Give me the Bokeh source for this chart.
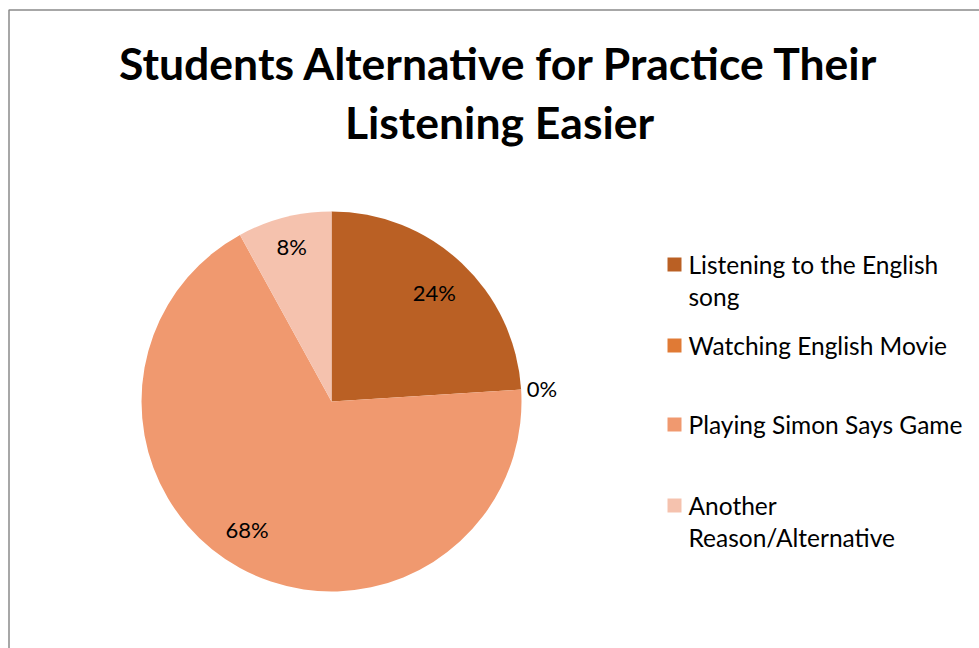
from bokeh.plotting import figure
from bokeh.models import Range1d
from bokeh.core.properties import value
from bokeh.embed import file_html
from bokeh.resources import INLINE
import math

# ---- data ----
categories = ["Listening to the English song", "Watching English Movie",
              "Playing Simon Says Game", "Another Reason/Alternative"]
percent = [24, 0, 68, 8]
pct_labels = ["24%", "0%", "68%", "8%"]
colors = ["#BA6024", "#E07A35", "#F0996F", "#F5C2AE"]
legend_lines = [["Listening to the English", "song"], ["Watching English Movie"],
                ["Playing Simon Says Game"], ["Another", "Reason/Alternative"]]
title_lines = ["Students Alternative for Practice Their", "Listening Easier"]

W, H = 979, 648
FONT = "Lato"

p = figure(width=W, height=H, output_backend="svg", toolbar_location=None,
           x_range=Range1d(0, W), y_range=Range1d(0, H), min_border=0,
           outline_line_color=None)
p.axis.visible = False
p.grid.visible = False
p.background_fill_color = "white"
p.border_fill_color = "white"

def Y(py):
    return H - py

# frame
p.line([8.5, 8.5, W + 5], [Y(H + 5), Y(9.5), Y(9.5)], line_color="#8a8a8a", line_width=1.5)

# title
p.text(x=[499, 499], y=[Y(62), Y(121)], text=title_lines, text_font=value(FONT),
       text_font_style="bold", text_font_size="44.5px", text_align="center",
       text_baseline="middle", text_color="black")

# pie
cx, cy, r = 331, Y(401), 190
total = sum(percent)
start = math.pi / 2
starts, ends, mids = [], [], []
for v in percent:
    sweep = 2 * math.pi * v / total
    end = start - sweep
    starts.append(end)
    ends.append(start)
    mids.append((start + end) / 2)
    start = end
for s, e, c, v in zip(starts, ends, colors, percent):
    if v > 0:
        p.wedge(x=cx, y=cy, radius=r, start_angle=s, end_angle=e,
                fill_color=c, line_color=None)

# data labels (positions by angle)
label_rf = [0.79, 1.11, 0.77, 0.84]
lx = [cx + rf * r * math.cos(m) for rf, m in zip(label_rf, mids)]
ly = [cy + rf * r * math.sin(m) for rf, m in zip(label_rf, mids)]
lx[2] -= 14
p.text(x=lx, y=ly, text=pct_labels, text_font=value(FONT), text_font_size="22px",
       text_align="center", text_baseline="middle", text_color="black")

# legend
sq_y = [264, 345, 424, 505]
for yy, c, lines in zip(sq_y, colors, legend_lines):
    p.scatter(x=[674], y=[Y(yy)], marker="square", size=14, fill_color=c, line_color=None)
    p.text(x=[688] * len(lines), y=[Y(yy + 32 * i) for i in range(len(lines))],
           text=lines, text_font=value(FONT), text_font_size="24.5px",
           text_align="left", text_baseline="middle", text_color="black")

open("out.html", "w").write(file_html(p, INLINE))
